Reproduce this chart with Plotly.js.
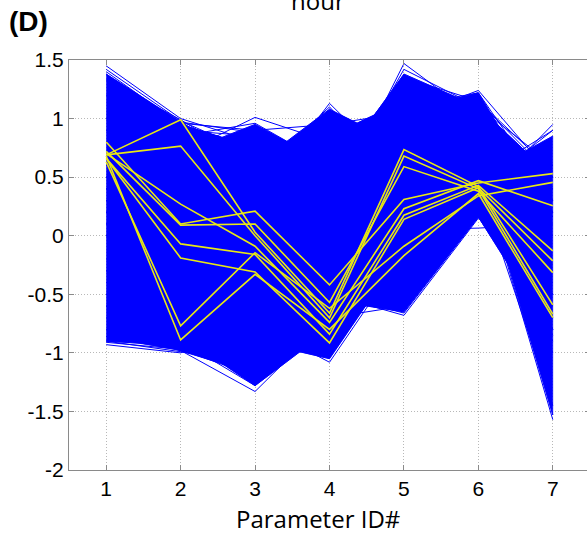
<!DOCTYPE html>
<html><head><meta charset="utf-8">
<script src="https://cdn.plot.ly/plotly-3.0.1.min.js"></script>
<style>html,body{margin:0;padding:0;overflow:hidden;background:#fff}#chart{width:600px;height:537px}</style>
</head><body><div id="chart"></div>
<script>
// Parameter axes and tick labels
const paramIds = [1, 2, 3, 4, 5, 6, 7];
const xTickLabels = ['1', '2', '3', '4', '5', '6', '7'];
const yTickVals = [1.5, 1, 0.5, 0, -0.5, -1, -1.5, -2];
const yTickLabels = ['1.5', '1', '0.5', '0', '-0.5', '-1', '-1.5', '-2'];

// Blue parameter sets forming the dense core of the bundle (values at IDs 1..7)
const blueCore = [
  [1.38, 0.97, 0.60, 0.30, 0.50, 0.80, 0.30],
  [0.80, 0.95, 0.75, 0.40, 0.60, 0.70, 0.20],
  [0.60, 0.70, 0.95, 0.60, 0.50, 0.60, 0.00],
  [0.40, 0.50, 0.60, 1.08, 0.75, 0.60, 0.20],
  [0.30, 0.40, 0.50, 0.50, 1.38, 1.10, 0.20],
  [0.50, 0.50, 0.40, 0.85, 1.15, 0.90, 0.30],
  [0.20, 0.30, 0.20, 0.50, 1.05, 1.22, 0.16],
  [0.10, 0.20, 0.10, 0.30, 0.80, 1.10, 0.50],
  [0.00, 0.20, 0.30, 0.20, 0.50, 0.50, 0.85],
  [-0.90, -0.94, -0.50, -0.30, 0.00, 0.50, -0.30],
  [-0.86, -0.98, -1.18, -0.60, -0.20, 0.40, -0.50],
  [-0.60, -0.85, -1.28, -0.80, -0.30, 0.50, -0.80],
  [-0.50, -0.60, -0.90, -1.05, -0.12, 0.40, -0.60],
  [-0.30, -0.20, -0.50, -0.55, -0.65, 0.16, -0.50],
  [0.00, 0.20, -0.20, -0.30, 0.30, 0.16, -0.85],
  [0.30, 0.20, 0.00, -0.20, 0.60, 0.62, -1.53]
];

// Blue parameter sets at the fringe of the bundle
const blueOuter = [
  [1.45, 1.00, 0.80, 0.60, 0.70, 0.90, 0.40],
  [1.42, 0.98, 0.70, 0.50, 0.90, 1.00, 0.50],
  [1.38, 0.90, 0.85, 0.70, 0.80, 0.70, 0.20],
  [1.20, 0.97, 0.88, 0.70, 0.60, 0.60, 0.30],
  [0.90, 0.70, 1.01, 0.80, 0.60, 0.50, 0.30],
  [0.50, 0.60, 0.30, 1.13, 0.50, 0.70, 0.20],
  [0.30, 0.50, 0.60, 0.55, 1.35, 1.10, 0.60],
  [0.20, 0.40, 0.30, 0.20, 1.47, 1.00, 0.50],
  [0.40, 0.50, 0.60, 0.50, 1.35, 1.15, 0.50],
  [0.50, 0.40, 0.30, 0.60, 1.00, 1.24, 0.50],
  [0.10, 0.30, 0.20, 0.40, 0.70, 0.30, 0.95],
  [0.20, 0.10, 0.30, 0.50, 0.90, 0.50, 0.90],
  [1.40, 0.95, 0.75, 0.40, 0.60, 0.80, 0.30],
  [1.33, 0.99, 0.60, 0.50, 0.80, 0.90, 0.60],
  [0.80, 0.85, 0.96, 0.60, 0.70, 0.60, 0.40],
  [0.60, 0.70, 0.50, 1.10, 0.40, 0.80, 0.30],
  [0.40, 0.30, 0.20, 0.30, 1.42, 1.10, 0.50],
  [0.30, 0.20, 0.40, 0.60, 1.10, 1.22, 0.30],
  [0.00, 0.10, 0.20, 0.30, 0.50, 0.40, 0.90],
  [1.00, 0.96, 0.90, 0.95, 1.05, 1.15, 0.55],
  [-0.93, -1.00, -0.80, -0.60, -0.30, 0.40, -0.50],
  [-0.91, -0.97, -1.20, -0.60, -0.50, 0.50, -1.00],
  [-0.70, -0.98, -1.33, -0.70, -0.40, 0.30, -0.80],
  [-0.50, -0.60, -0.75, -1.08, -0.15, 0.30, -0.60],
  [-0.30, -0.40, -0.60, -0.50, -0.68, 0.15, -0.40],
  [-0.20, 0.00, -0.30, -0.40, 0.05, 0.065, 0.10],
  [0.20, 0.30, 0.10, 0.00, 0.70, 0.60, -1.57],
  [0.10, 0.20, -0.10, -0.20, 0.50, 0.45, -1.45],
  [-0.80, -0.90, -1.28, -0.70, -0.60, 0.20, -0.90],
  [-0.90, -0.99, -1.10, -0.50, -0.66, 0.16, -0.80],
  [-0.40, -0.50, -0.95, -0.85, -0.10, 0.35, -0.50],
  [-0.60, -0.70, -1.05, -0.95, -0.05, 0.30, -0.70]
];

// Highlighted (yellow) parameter sets
const yellowLines = [
  [0.69, 0.99, 0.03, -0.66, 0.735, 0.42, -0.59],
  [0.69, 0.765, 0.00, -0.70, 0.68, 0.40, -0.67],
  [0.80, 0.10, 0.21, -0.42, 0.31, 0.45, 0.53],
  [0.72, 0.09, 0.10, -0.57, 0.59, 0.38, -0.315],
  [0.70, 0.27, -0.09, -0.74, 0.23, 0.47, 0.255],
  [0.66, -0.07, -0.16, -0.84, 0.175, 0.43, -0.13],
  [0.66, -0.19, -0.31, -0.915, 0.14, 0.41, -0.215],
  [0.63, -0.77, -0.145, -0.62, -0.09, 0.34, 0.455],
  [0.68, -0.89, -0.33, -0.80, -0.17, 0.36, -0.70]
];

function joinLines(sets) {
  const x = [], y = [];
  sets.forEach(s => { s.forEach((v, i) => { x.push(paramIds[i]); y.push(v); }); x.push(null); y.push(null); });
  return {x, y};
}

// Envelope of the core bundle (max/min of the core polylines between axes)
const envX = [], envTop = [], envBot = [];
const steps = 40;
for (let s = 0; s < paramIds.length - 1; s++) {
  for (let k = (s === 0 ? 0 : 1); k <= steps; k++) {
    const t = k / steps;
    let mx = -Infinity, mn = Infinity;
    blueCore.forEach(L => { const v = L[s] + (L[s + 1] - L[s]) * t; if (v > mx) mx = v; if (v < mn) mn = v; });
    envX.push(paramIds[s] + (paramIds[s + 1] - paramIds[s]) * t);
    envTop.push(mx); envBot.push(mn);
  }
}

const core = joinLines(blueCore), outer = joinLines(blueOuter), yel = joinLines(yellowLines);
const traces = [
  {type: 'scatter', mode: 'lines', x: envX.concat(envX.slice().reverse()), y: envTop.concat(envBot.slice().reverse()),
   fill: 'toself', fillcolor: '#0000ff', line: {color: '#0000ff', width: 0.5}, hoverinfo: 'skip'},
  {type: 'scatter', mode: 'lines', x: outer.x, y: outer.y, line: {color: '#0000ff', width: 1}, hoverinfo: 'skip'},
  {type: 'scatter', mode: 'lines', x: core.x, y: core.y, line: {color: '#0000ff', width: 1}, hoverinfo: 'skip'},
  {type: 'scatter', mode: 'lines', x: yel.x, y: yel.y, line: {color: 'rgb(232,232,20)', width: 1.6}, hoverinfo: 'skip'}
];

const axisCommon = {
  showgrid: true, gridcolor: '#b8b8b8', griddash: '1px,2px', gridwidth: 1,
  zeroline: false, showline: true, linecolor: '#8a8a8a', linewidth: 1, mirror: 'ticks',
  ticks: 'inside', ticklen: 5, tickcolor: '#8a8a8a',
  tickfont: {family: 'Liberation Sans, Arial, sans-serif', size: 21, color: '#000'}
};

const layout = {
  width: 600, height: 537,
  margin: {l: 69, r: 10, t: 60, b: 67},
  paper_bgcolor: '#fff', plot_bgcolor: '#fff', showlegend: false,
  xaxis: Object.assign({}, axisCommon, {range: [0.5, 7.5], tickvals: paramIds, ticktext: xTickLabels}),
  yaxis: Object.assign({}, axisCommon, {range: [-2, 1.5], tickvals: yTickVals, ticktext: yTickLabels}),
  annotations: [
    {text: 'hour', xref: 'paper', yref: 'paper', x: (318 - 69) / 521, y: (470 - 19) / 410, xanchor: 'center', yanchor: 'bottom',
     showarrow: false, font: {family: 'Open Sans, sans-serif', size: 24, color: '#000'}},
    {text: '<b>(D)</b>', xref: 'paper', yref: 'paper', x: (7 - 69) / 521, y: (470 - 22) / 410, xanchor: 'left', yanchor: 'middle',
     showarrow: false, font: {family: 'Liberation Sans, Arial, sans-serif', size: 28, color: '#000'}},
    {text: 'Parameter ID#', xref: 'paper', yref: 'paper', x: (318 - 69) / 521, y: (470 - 537) / 410, xanchor: 'center', yanchor: 'bottom',
     showarrow: false, font: {family: 'Open Sans, sans-serif', size: 24, color: '#000'}}
  ]
};

Plotly.newPlot('chart', traces, layout, {staticPlot: true, displayModeBar: false});
</script></body></html>
